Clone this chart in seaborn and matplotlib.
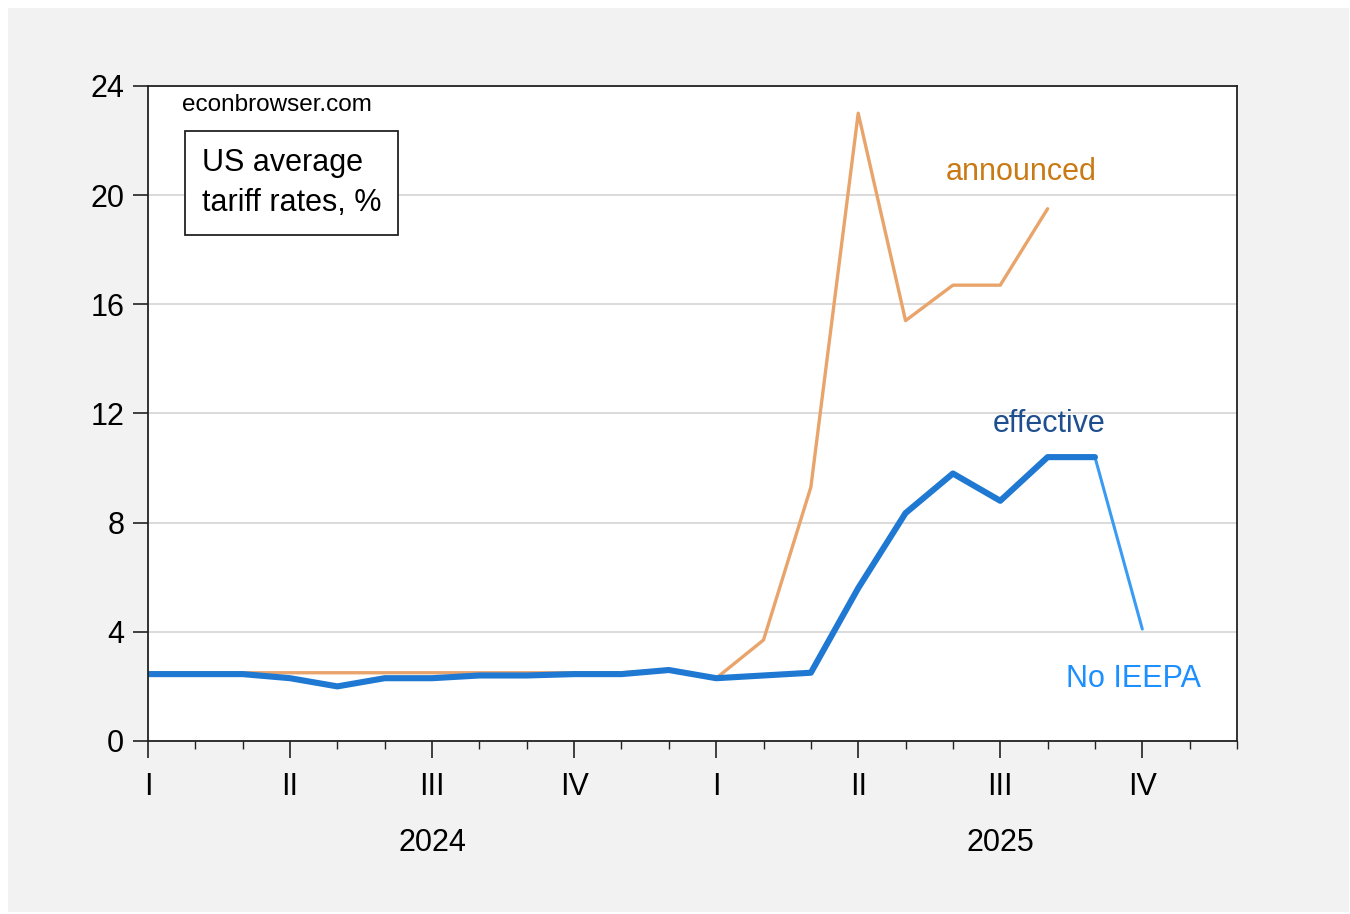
import matplotlib
matplotlib.use("Agg")
import matplotlib.pyplot as plt
import matplotlib.transforms as mtransforms
from matplotlib.patches import Rectangle
import seaborn as sns
import pandas as pd

# monthly, Jan 2024 .. Dec 2025
months = pd.period_range("2024-01", "2025-12", freq="M")
quarter_labels = ["I", "II", "III", "IV", "I", "II", "III", "IV"]
year_labels = ["2024", "2025"]

# US average tariff rates, %
announced = [2.5, 2.5, 2.5, 2.5, 2.5, 2.5, 2.5, 2.5, 2.5, 2.5, 2.5, 2.6,
             2.3, 3.7, 9.3, 23.0, 15.4, 16.7, 16.7, 19.5]
effective = [2.45, 2.45, 2.45, 2.3, 2.0, 2.3, 2.3, 2.4, 2.4, 2.45, 2.45, 2.6,
             2.3, 2.4, 2.5, 5.6, 8.35, 9.8, 8.8, 10.4, 10.4]
no_ieepa_months = ["2025-09", "2025-10"]
no_ieepa = [10.4, 4.1]

idx = {str(m): i for i, m in enumerate(months)}
df_ann = pd.DataFrame({"t": range(len(announced)), "v": announced})
df_eff = pd.DataFrame({"t": range(len(effective)), "v": effective})
df_no = pd.DataFrame({"t": [idx[m] for m in no_ieepa_months], "v": no_ieepa})

sns.set_style("white")
plt.rcParams["font.family"] = ["Liberation Sans", "DejaVu Sans"]
plt.rcParams["text.color"] = "black"

fig = plt.figure(figsize=(13.5, 9.14), dpi=100, facecolor="white")
fig.patches.append(Rectangle((0.006, 0.002), 0.993, 0.989, transform=fig.transFigure,
                             facecolor="#f2f2f2", edgecolor="none", zorder=-10))
ax = fig.add_axes([0.1096, 0.1893, 0.8067, 0.7167])
ax.set_facecolor("white")

sns.lineplot(data=df_ann, x="t", y="v", ax=ax, color="#E8A46A", lw=2.4)
sns.lineplot(data=df_no, x="t", y="v", ax=ax, color="#3A9BF5", lw=2.2)
sns.lineplot(data=df_eff, x="t", y="v", ax=ax, color="#1F78D1", lw=4.4)

ax.set_xlim(0, len(months) - 1)
ax.set_ylim(0, 24)
ax.set_yticks(range(0, 25, 4))
ax.set_xticks(range(0, len(months), 3))
ax.set_xticklabels(quarter_labels)
ax.set_xticks(range(len(months)), minor=True)
ax.set_xlabel("")
ax.set_ylabel("")
ax.yaxis.grid(True, color="#d4d4d4", lw=1.2)
ax.set_axisbelow(True)

ax.tick_params(axis="x", which="major", length=12, width=1.2, pad=10,
               labelsize=22, direction="out", bottom=True, colors="#222222")
ax.tick_params(axis="x", which="minor", length=6, width=1, direction="out",
               bottom=True, colors="#222222")
ax.tick_params(axis="y", length=11, width=1.2, pad=6, labelsize=22,
               direction="out", left=True, colors="#222222")
ax.tick_params(labelcolor="black")
for s in ax.spines.values():
    s.set_color("#222222")
    s.set_linewidth(1.3)

trans = mtransforms.blended_transform_factory(ax.transData, fig.transFigure)
for x, lab in zip([6, 18], year_labels):
    ax.text(x, 0.078, lab, transform=trans, ha="center", va="center", fontsize=22)

ax.text(0.72, 23.3, "econbrowser.com", ha="left", va="center", fontsize=17.5)
ax.text(1.14, 20.45, "US average\ntariff rates, %", ha="left", va="center",
        fontsize=22, linespacing=1.45,
        bbox=dict(boxstyle="square,pad=0.55", facecolor="white", edgecolor="#222222", lw=1.3))

ax.text(18.45, 20.85, "announced", color="#C97A14", fontsize=22, ha="center", va="center")
ax.text(19.04, 11.6, "effective", color="#1E4E8E", fontsize=22, ha="center", va="center")
ax.text(20.82, 2.28, "No IEEPA", color="#1E8FFF", fontsize=22, ha="center", va="center")

fig.savefig("out.png", dpi=100, facecolor=fig.get_facecolor())
